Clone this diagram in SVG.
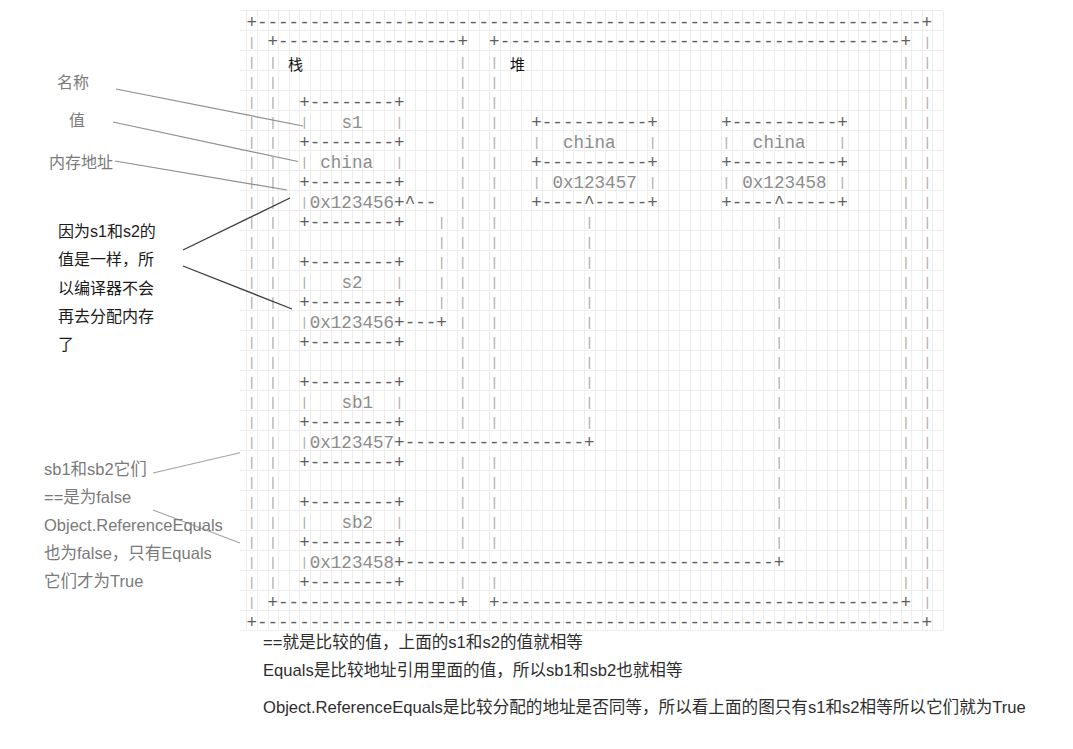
<svg xmlns="http://www.w3.org/2000/svg" width="1073" height="749" viewBox="0 0 1073 749">
<style>
.grid{stroke:#ededed;stroke-width:1;fill:none;shape-rendering:crispEdges}
.a{font-family:"Liberation Mono",monospace;font-size:17.58px;fill:#5e5e5e}
.t{font-family:"Liberation Mono",monospace;font-size:17.58px;fill:#8c8c8c}
.v{font-family:"Liberation Mono",monospace;font-size:13px;fill:#ababab;stroke:#b4b4b4;stroke-width:0.15;text-anchor:middle}
.cjk{font-family:"Noto Sans CJK SC",sans-serif;font-size:15px;fill:#111}
.ng{font-family:"Liberation Sans","Noto Sans CJK SC",sans-serif;font-size:16px;fill:#7a7a7a}
.nb{font-family:"Liberation Sans","Noto Sans CJK SC",sans-serif;font-size:16px;fill:#1c1c1c}
.ns{font-family:"Liberation Sans","Noto Sans CJK SC",sans-serif;font-size:16.5px;fill:#7a7a7a}
.nt{font-family:"Liberation Sans","Noto Sans CJK SC",sans-serif;font-size:16.6px;fill:#2e2e2e}
.l1{stroke:#8e8e8e;stroke-width:1.2;fill:none}
.l2{stroke:#3a3a3a;stroke-width:1.3;fill:none}
.l3{stroke:#a2a2a2;stroke-width:1.1;fill:none}
</style>
<rect width="1073" height="749" fill="#ffffff"/>
<g id="grid">
<path class="grid" d="M240 10.5H943.2M240 30.5H943.2M240 50.5H943.2M240 70.5H943.2M240 90.5H943.2M240 110.5H943.2M240 130.5H943.2M240 150.5H943.2M240 170.5H943.2M240 190.5H943.2M240 210.5H943.2M240 230.5H943.2M240 250.5H943.2M240 270.5H943.2M240 290.5H943.2M240 310.5H943.2M240 330.5H943.2M240 350.5H943.2M240 370.5H943.2M240 390.5H943.2M240 410.5H943.2M240 430.5H943.2M240 450.5H943.2M240 470.5H943.2M240 490.5H943.2M240 510.5H943.2M240 530.5H943.2M240 550.5H943.2M240 570.5H943.2M240 590.5H943.2M240 610.5H943.2M240 630.5H943.2"/>
<path class="grid" d="M246.9 10.5V630.5M257.45 10.5V630.5M268 10.5V630.5M278.55 10.5V630.5M289.1 10.5V630.5M299.65 10.5V630.5M310.2 10.5V630.5M320.75 10.5V630.5M331.3 10.5V630.5M341.85 10.5V630.5M352.4 10.5V630.5M362.95 10.5V630.5M373.5 10.5V630.5M384.05 10.5V630.5M394.6 10.5V630.5M405.15 10.5V630.5M415.7 10.5V630.5M426.25 10.5V630.5M436.8 10.5V630.5M447.35 10.5V630.5M457.9 10.5V630.5M468.45 10.5V630.5M479 10.5V630.5M489.55 10.5V630.5M500.1 10.5V630.5M510.65 10.5V630.5M521.2 10.5V630.5M531.75 10.5V630.5M542.3 10.5V630.5M552.85 10.5V630.5M563.4 10.5V630.5M573.95 10.5V630.5M584.5 10.5V630.5M595.05 10.5V630.5M605.6 10.5V630.5M616.15 10.5V630.5M626.7 10.5V630.5M637.25 10.5V630.5M647.8 10.5V630.5M658.35 10.5V630.5M668.9 10.5V630.5M679.45 10.5V630.5M690 10.5V630.5M700.55 10.5V630.5M711.1 10.5V630.5M721.65 10.5V630.5M732.2 10.5V630.5M742.75 10.5V630.5M753.3 10.5V630.5M763.85 10.5V630.5M774.4 10.5V630.5M784.95 10.5V630.5M795.5 10.5V630.5M806.05 10.5V630.5M816.6 10.5V630.5M827.15 10.5V630.5M837.7 10.5V630.5M848.25 10.5V630.5M858.8 10.5V630.5M869.35 10.5V630.5M879.9 10.5V630.5M890.45 10.5V630.5M901 10.5V630.5M911.55 10.5V630.5M922.1 10.5V630.5M932.65 10.5V630.5M943.2 10.5V630.5"/>
</g>
<g id="frame">
<text class="a" x="246.43" y="27.5">+---------------------------------------------------------------+</text>
<text class="a" x="246.43" y="627.5">+---------------------------------------------------------------+</text>
<text class="v" x="251.7 251.7 251.7 251.7 251.7 251.7 251.7 251.7 251.7 251.7 251.7 251.7 251.7 251.7 251.7 251.7 251.7 251.7 251.7 251.7 251.7 251.7 251.7 251.7 251.7 251.7 251.7 251.7 251.7" y="45.8 65.8 85.8 105.8 125.8 145.8 165.8 185.8 205.8 225.8 245.8 265.8 285.8 305.8 325.8 345.8 365.8 385.8 405.8 425.8 445.8 465.8 485.8 505.8 525.8 545.8 565.8 585.8 605.8">|||||||||||||||||||||||||||||</text>
<text class="v" x="927.3 927.3 927.3 927.3 927.3 927.3 927.3 927.3 927.3 927.3 927.3 927.3 927.3 927.3 927.3 927.3 927.3 927.3 927.3 927.3 927.3 927.3 927.3 927.3 927.3 927.3 927.3 927.3 927.3" y="45.8 65.8 85.8 105.8 125.8 145.8 165.8 185.8 205.8 225.8 245.8 265.8 285.8 305.8 325.8 345.8 365.8 385.8 405.8 425.8 445.8 465.8 485.8 505.8 525.8 545.8 565.8 585.8 605.8">|||||||||||||||||||||||||||||</text>
</g>
<g id="stack">
<text class="a" x="267.53" y="46.6">+-----------------+</text>
<text class="a" x="267.53" y="607.5">+-----------------+</text>
<text class="cjk" x="288" y="69.6">栈</text>
<text class="v" x="272.8 272.8 272.8 272.8 272.8 272.8 272.8 272.8 272.8 272.8 272.8 272.8 272.8 272.8 272.8 272.8 272.8 272.8 272.8 272.8 272.8 272.8 272.8 272.8 272.8 272.8 272.8" y="65.8 85.8 105.8 125.8 145.8 165.8 185.8 205.8 225.8 245.8 265.8 285.8 305.8 325.8 345.8 365.8 385.8 405.8 425.8 445.8 465.8 485.8 505.8 525.8 545.8 565.8 585.8">|||||||||||||||||||||||||||</text>
<text class="v" x="462.7 462.7 462.7 462.7 462.7 462.7 462.7 462.7 462.7 462.7 462.7 462.7 462.7 462.7 462.7 462.7 462.7 462.7 462.7" y="65.8 85.8 105.8 125.8 145.8 165.8 185.8 205.8 225.8 245.8 265.8 285.8 305.8 325.8 345.8 365.8 385.8 405.8 425.8">|||||||||||||||||||</text>
<text class="v" x="462.7 462.7 462.7 462.7 462.7" y="465.8 485.8 505.8 525.8 545.8">|||||</text>
<text class="v" x="462.7" y="585.8">|</text>
</g>
<g id="heap">
<text class="a" x="489.08" y="46.6">+--------------------------------------+</text>
<text class="a" x="489.08" y="607.5">+--------------------------------------+</text>
<text class="cjk" x="510" y="69.6">堆</text>
<text class="v" x="494.35 494.35 494.35 494.35 494.35 494.35 494.35 494.35 494.35 494.35 494.35 494.35 494.35 494.35 494.35 494.35 494.35 494.35 494.35" y="65.8 85.8 105.8 125.8 145.8 165.8 185.8 205.8 225.8 245.8 265.8 285.8 305.8 325.8 345.8 365.8 385.8 405.8 425.8">|||||||||||||||||||</text>
<text class="v" x="494.35 494.35 494.35 494.35 494.35" y="465.8 485.8 505.8 525.8 545.8">|||||</text>
<text class="v" x="494.35" y="585.8">|</text>
<text class="v" x="905.8 905.8 905.8 905.8 905.8 905.8 905.8 905.8 905.8 905.8 905.8 905.8 905.8 905.8 905.8 905.8 905.8 905.8 905.8 905.8 905.8 905.8 905.8 905.8 905.8 905.8 905.8" y="65.8 85.8 105.8 125.8 145.8 165.8 185.8 205.8 225.8 245.8 265.8 285.8 305.8 325.8 345.8 365.8 385.8 405.8 425.8 445.8 465.8 485.8 505.8 525.8 545.8 565.8 585.8">|||||||||||||||||||||||||||</text>
</g>
<g id="node-s1">
<text class="a" x="299.18" y="107.5">+--------+</text>
<text class="v" x="304.45" y="125.8">|</text>
<text class="t" x="341.38" y="127.5">s1</text>
<text class="v" x="399.4" y="125.8">|</text>
<text class="a" x="299.18" y="147.5">+--------+</text>
<text class="v" x="304.45" y="165.8">|</text>
<text class="t" x="320.28" y="167.5">china</text>
<text class="v" x="399.4" y="165.8">|</text>
<text class="a" x="299.18" y="187.5">+--------+</text>
<text class="v" x="304.45" y="205.8">|</text>
<text class="t" x="309.73" y="207.5">0x123456<tspan class="a">+</tspan></text>
<text class="a" x="299.18" y="227.5">+--------+</text>
</g>
<g id="node-s2">
<text class="a" x="299.18" y="267.5">+--------+</text>
<text class="v" x="304.45" y="285.8">|</text>
<text class="t" x="341.38" y="287.5">s2</text>
<text class="v" x="399.4" y="285.8">|</text>
<text class="a" x="299.18" y="307.5">+--------+</text>
<text class="v" x="304.45" y="325.8">|</text>
<text class="t" x="309.73" y="327.5">0x123456<tspan class="a">+</tspan></text>
<text class="a" x="299.18" y="347.5">+--------+</text>
</g>
<g id="node-sb1">
<text class="a" x="299.18" y="387.5">+--------+</text>
<text class="v" x="304.45" y="405.8">|</text>
<text class="t" x="341.38" y="407.5">sb1</text>
<text class="v" x="399.4" y="405.8">|</text>
<text class="a" x="299.18" y="427.5">+--------+</text>
<text class="v" x="304.45" y="445.8">|</text>
<text class="t" x="309.73" y="447.5">0x123457<tspan class="a">+</tspan></text>
<text class="a" x="299.18" y="467.5">+--------+</text>
</g>
<g id="node-sb2">
<text class="a" x="299.18" y="507.5">+--------+</text>
<text class="v" x="304.45" y="525.8">|</text>
<text class="t" x="341.38" y="527.5">sb2</text>
<text class="v" x="399.4" y="525.8">|</text>
<text class="a" x="299.18" y="547.5">+--------+</text>
<text class="v" x="304.45" y="565.8">|</text>
<text class="t" x="309.73" y="567.5">0x123458<tspan class="a">+</tspan></text>
<text class="a" x="299.18" y="587.5">+--------+</text>
</g>
<g id="node-heap1">
<text class="a" x="531.28" y="127.5">+----------+</text>
<text class="v" x="536.55" y="145.8">|</text>
<text class="t" x="562.93" y="147.5">china</text>
<text class="v" x="652.6" y="145.8">|</text>
<text class="a" x="531.28" y="167.5">+----------+</text>
<text class="v" x="536.55" y="185.8">|</text>
<text class="t" x="552.38" y="187.5">0x123457</text>
<text class="v" x="652.6" y="185.8">|</text>
<text class="a" x="531.28" y="207.5">+----^-----+</text>
</g>
<g id="node-heap2">
<text class="a" x="721.18" y="127.5">+----------+</text>
<text class="v" x="726.45" y="145.8">|</text>
<text class="t" x="752.83" y="147.5">china</text>
<text class="v" x="842.5" y="145.8">|</text>
<text class="a" x="721.18" y="167.5">+----------+</text>
<text class="v" x="726.45" y="185.8">|</text>
<text class="t" x="742.28" y="187.5">0x123458</text>
<text class="v" x="842.5" y="185.8">|</text>
<text class="a" x="721.18" y="207.5">+----^-----+</text>
</g>
<g id="connectors">
<text class="a" x="404.68" y="207.5">^--</text>
<text class="v" x="441.6 441.6 441.6 441.6 441.6" y="225.8 245.8 265.8 285.8 305.8">|||||</text>
<text class="a" x="404.68" y="327.5">---+</text>
<text class="a" x="404.68" y="447.5">-----------------+</text>
<text class="v" x="589.3 589.3 589.3 589.3 589.3 589.3 589.3 589.3 589.3 589.3 589.3" y="225.8 245.8 265.8 285.8 305.8 325.8 345.8 365.8 385.8 405.8 425.8">|||||||||||</text>
<text class="a" x="404.68" y="567.5">-----------------------------------+</text>
<text class="v" x="779.2 779.2 779.2 779.2 779.2 779.2 779.2 779.2 779.2 779.2 779.2 779.2 779.2 779.2 779.2 779.2 779.2" y="225.8 245.8 265.8 285.8 305.8 325.8 345.8 365.8 385.8 405.8 425.8 445.8 465.8 485.8 505.8 525.8 545.8">|||||||||||||||||</text>
<g id="leaders">
<line class="l1" x1="116" y1="89" x2="303" y2="126"/>
<line class="l1" x1="113" y1="122" x2="298" y2="161.5"/>
<line class="l1" x1="115" y1="161" x2="287" y2="190"/>
<line class="l2" x1="183" y1="250" x2="290" y2="198"/>
<line class="l2" x1="183" y1="266" x2="292" y2="309"/>
<line class="l3" x1="153" y1="473" x2="240" y2="452.7"/>
<line class="l3" x1="153" y1="510" x2="240" y2="543"/>
</g>
</g>
<g id="note-name"><text class="ng" x="57" y="88">名称</text></g>
<g id="note-value"><text class="ng" x="69" y="126">值</text></g>
<g id="note-address"><text class="ng" x="49" y="167.5">内存地址</text></g>
<g id="note-same">
<text class="nb" x="58" y="236.5">因为s1和s2的</text>
<text class="nb" x="58" y="265">值是一样，所</text>
<text class="nb" x="58" y="293.5">以编译器不会</text>
<text class="nb" x="58" y="322">再去分配内存</text>
<text class="nb" x="58" y="350">了</text>
</g>
<g id="note-sb">
<text class="ns" x="44" y="475">sb1和sb2它们</text>
<text class="ns" x="44" y="503">==是为false</text>
<text class="ns" x="44" y="531">Object.ReferenceEquals</text>
<text class="ns" x="44" y="559">也为false，只有Equals</text>
<text class="ns" x="44" y="587">它们才为True</text>
</g>
<g id="note-bottom">
<text class="nt" x="263" y="648">==就是比较的值，上面的s1和s2的值就相等</text>
<text class="nt" x="263" y="676">Equals是比较地址引用里面的值，所以sb1和sb2也就相等</text>
<text class="nt" x="263" y="713">Object.ReferenceEquals是比较分配的地址是否同等，所以看上面的图只有s1和s2相等所以它们就为True</text>
</g>
</svg>
